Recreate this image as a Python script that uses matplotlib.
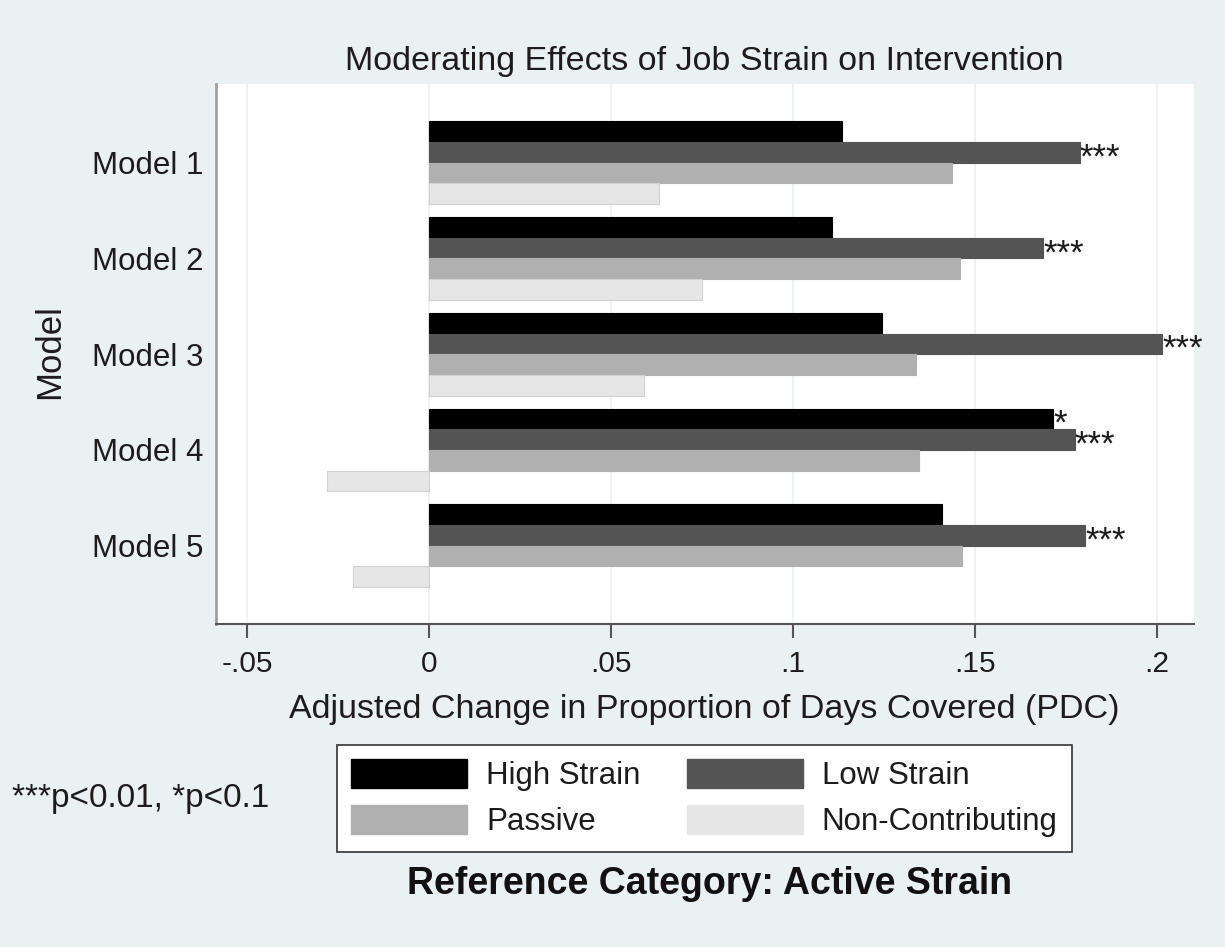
import matplotlib
matplotlib.use("Agg")
import matplotlib.pyplot as plt
import matplotlib.transforms as mtransforms
from matplotlib.patches import Patch
import numpy as np

plt.rcParams["font.family"] = ["Liberation Sans", "DejaVu Sans"]

models = ["Model 1", "Model 2", "Model 3", "Model 4", "Model 5"]
series = ["High Strain", "Low Strain", "Passive", "Non-Contributing"]
high_strain = [0.1134, 0.1107, 0.1244, 0.1715, 0.1408]
low_strain = [0.1787, 0.1687, 0.2013, 0.1773, 0.1803]
passive = [0.1437, 0.1457, 0.1337, 0.1346, 0.1464]
non_contrib = [0.0632, 0.0751, 0.0591, -0.0281, -0.0210]
high_stars = ["", "", "", "*", ""]
low_stars = ["***", "***", "***", "***", "***"]
xticks = [-0.05, 0, 0.05, 0.1, 0.15, 0.2]
xticklabels = ["-.05", "0", ".05", ".1", ".15", ".2"]

colors = ["#000000", "#545454", "#b0b0b0", "#e6e6e6"]
BG = "#eaf1f3"
TXT = "#1c1c1c"

fig = plt.figure(figsize=(12.25, 9.47), dpi=100, facecolor=BG)
ax = fig.add_axes([0.176, 0.341, 0.7984, 0.570])
ax.set_facecolor("white")

y = np.arange(1, len(models) + 1)
h = 0.216
values = [high_strain, low_strain, passive, non_contrib]
bars = []
for i, (vals, c) in enumerate(zip(values, colors)):
    off = (i - 1.5) * h
    ec = "#d2d2d2" if i == 3 else c
    b = ax.barh(y + off, vals, height=h, color=c, edgecolor=ec, linewidth=0.8, zorder=3)
    bars.append(b)

# significance stars, glyph centred on the bar
star_tr = mtransforms.offset_copy(ax.transData, fig=fig, x=0, y=-15, units="dots")
for grp, marks in ((bars[0], high_stars), (bars[1], low_stars)):
    for rect, s in zip(grp, marks):
        if s:
            ax.text(rect.get_width(), rect.get_y() + rect.get_height() / 2, s,
                    ha="left", va="baseline", fontsize=25, color=TXT,
                    transform=star_tr, zorder=4)

ax.set_xlim(-0.0586, 0.210)
ax.set_ylim(5.82, 0.18)
ax.set_yticks(y)
ax.set_yticklabels(models, fontsize=22.5, color=TXT)
ax.set_xticks(xticks)
ax.set_xticklabels(xticklabels, fontsize=21.5, color=TXT)
ax.tick_params(axis="y", length=0, pad=9)
ax.tick_params(axis="x", length=10, width=1.5, color="#555555", pad=9)
ax.grid(axis="x", color="#edf2f4", linewidth=1.5, zorder=0)
ax.set_axisbelow(True)
for s in ["top", "right"]:
    ax.spines[s].set_visible(False)
ax.spines["left"].set_color("#a0a0a0")
ax.spines["left"].set_linewidth(2)
ax.spines["bottom"].set_color("#555555")
ax.spines["bottom"].set_linewidth(1.5)

ax.set_xlabel("Adjusted Change in Proportion of Days Covered (PDC)", fontsize=24.5,
              color=TXT, labelpad=11)
ax.set_ylabel("Model", fontsize=25, color=TXT)
ax.yaxis.set_label_coords(-0.153, 0.504)
ax.set_title("Moderating Effects of Job Strain on Intervention", fontsize=24.5,
             color=TXT, pad=10)

handles = [Patch(facecolor=colors[0], edgecolor=colors[0]),
           Patch(facecolor=colors[2], edgecolor=colors[2]),
           Patch(facecolor=colors[1], edgecolor=colors[1]),
           Patch(facecolor=colors[3], edgecolor=colors[3])]
labels = [series[0], series[2], series[1], series[3]]
leg = fig.legend(handles, labels, ncol=2, loc="upper center",
                 bbox_to_anchor=(704.5 / 1225, 1 - 745 / 947), fontsize=22.5,
                 frameon=True, fancybox=False, edgecolor="#333333", framealpha=1,
                 handlelength=3.71, handleheight=1.05, handletextpad=0.6,
                 columnspacing=1.5, labelspacing=0.45, borderpad=0.45,
                 borderaxespad=0)
leg.get_frame().set_linewidth(1.2)
for t in leg.get_texts():
    t.set_color(TXT)

fig.text(12 / 1225, 1 - 807 / 947, "***p<0.01, *p<0.1", fontsize=24,
         ha="left", va="baseline", color=TXT)
fig.text(710 / 1225, 1 - 894 / 947, "Reference Category: Active Strain",
         fontsize=27, fontweight="bold", ha="center", va="baseline", color="#111111")

fig.savefig("out.png", dpi=100, facecolor=BG)
